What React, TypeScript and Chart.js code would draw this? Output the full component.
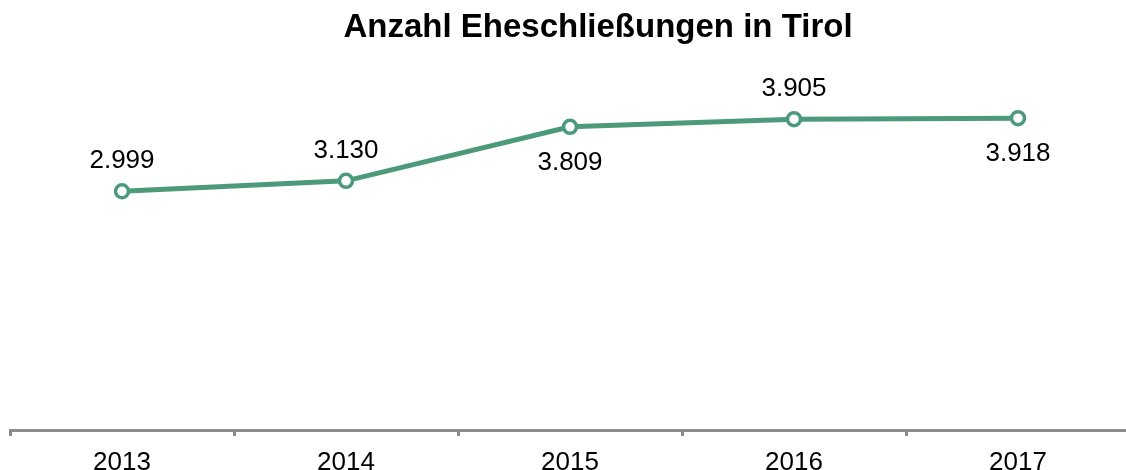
import React, { useEffect, useRef } from "react";
import { Chart, registerables } from "chart.js";

Chart.register(...registerables);

const years = ["2013", "2014", "2015", "2016", "2017"];
const marriages = [2999, 3130, 3809, 3905, 3918];
const labelAbove = [true, true, false, true, false];
const title = "Anzahl Eheschließungen in Tirol";

const lineColor = "rgb(76,154,122)";
const FONT = "'Liberation Sans', Arial, sans-serif";

const fmt = (v: number) => v.toLocaleString("de-DE");

const overlayPlugin = {
  id: "overlay",
  afterDatasetsDraw(chart: any) {
    const ctx = chart.ctx;
    const meta = chart.getDatasetMeta(0);
    ctx.save();
    ctx.fillStyle = "#000";
    ctx.font = `26px ${FONT}`;
    ctx.textAlign = "center";
    ctx.textBaseline = "middle";
    meta.data.forEach((pt: any, i: number) => {
      const dy = labelAbove[i] ? -30 : 36;
      ctx.fillText(fmt(marriages[i]), pt.x, pt.y + dy);
    });
    ctx.font = `bold 33px ${FONT}`;
    ctx.fillText(title, 598, 28);
    ctx.restore();
  },
};

export default function App() {
  const ref = useRef<HTMLCanvasElement>(null);
  useEffect(() => {
    if (!ref.current) return;
    const chart = new Chart(ref.current, {
      type: "line",
      data: {
        labels: years,
        datasets: [
          {
            data: marriages,
            borderColor: lineColor,
            borderWidth: 5,
            pointRadius: 6.5,
            pointBorderWidth: 3.5,
            pointBackgroundColor: "#fff",
            pointBorderColor: lineColor,
            tension: 0,
          },
        ],
      },
      options: {
        responsive: true,
        maintainAspectRatio: false,
        animation: false,
        layout: { padding: { left: 10, right: 9, top: 32, bottom: 0 } },
        plugins: {
          legend: { display: false },
          title: { display: false },
          tooltip: { enabled: false },
        },
        scales: {
          y: { display: false, min: 0, max: 5000 },
          x: {
            offset: true,
            afterFit(scale: any) {
              scale.height = 40;
            },
            border: { display: true, color: "#8c8c8c", width: 3 },
            grid: {
              offset: true,
              drawOnChartArea: false,
              drawTicks: true,
              tickLength: 6,
              color: "#8c8c8c",
              lineWidth: 3,
            },
            ticks: {
              color: "#000",
              font: { family: FONT, size: 26 },
              padding: 11,
            },
          },
        },
      },
      plugins: [overlayPlugin],
    });
    return () => chart.destroy();
  }, []);
  return (
    <div style={{ position: "fixed", left: 0, top: 0, width: 1126, height: 470, overflow: "hidden", background: "#fff" }}>
      <div style={{ position: "absolute", left: 0, top: 0, width: 1140, height: 470 }}>
        <canvas ref={ref} />
      </div>
    </div>
  );
}
